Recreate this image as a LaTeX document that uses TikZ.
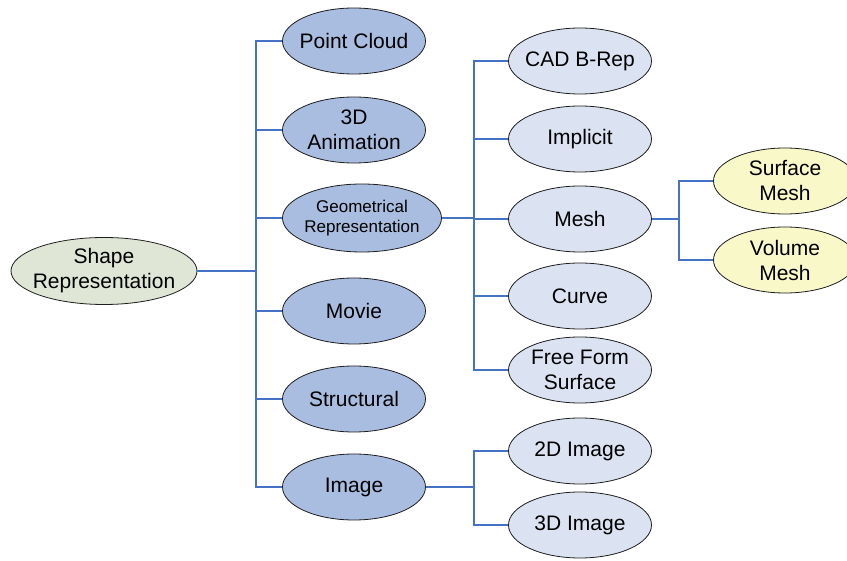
\documentclass[tikz,border=0pt]{standalone}
\usepackage{fontspec}
\setmainfont{Liberation Sans}
\usetikzlibrary{shapes.geometric}

\definecolor{linkblue}{RGB}{68,114,196}
\definecolor{rootfill}{RGB}{223,230,213}
\definecolor{midfill}{RGB}{168,189,224}
\definecolor{leaffill}{RGB}{219,226,241}
\definecolor{meshfill}{RGB}{248,248,200}
\definecolor{edgegray}{RGB}{30,30,30}

\tikzset{
  blob/.style={ellipse, draw=edgegray, line width=0.8pt,
    inner xsep=-30pt, inner ysep=-15pt,
    minimum width=143pt, minimum height=66pt, align=center,
    font=\fontsize{21}{25}\selectfont},
  rootblob/.style={blob, fill=rootfill, minimum width=186pt, minimum height=67pt},
  midblob/.style={blob, fill=midfill},
  leafblob/.style={blob, fill=leaffill},
  meshblob/.style={blob, fill=meshfill},
  link/.style={draw=linkblue, line width=1.1pt}
}

\begin{document}
\begin{tikzpicture}[x=1pt,y=-1pt]
  \clip (0,0) rectangle (847,561);
  \useasboundingbox (0,0) rectangle (847,561);

  % root
  \node[rootblob] (sr) at (104,271) {Shape\\Representation};

  % first level
  \node[midblob] (pc)     at (354,41)  {Point Cloud};
  \node[midblob] (anim)   at (354,130) {3D\\Animation};
  \node[midblob, minimum width=159pt, minimum height=68pt,
        font=\fontsize{17}{20.5}\selectfont] (geo) at (362,218) {Geometrical\\Representation};
  \node[midblob] (movie)  at (354,311) {Movie};
  \node[midblob] (struct) at (354,399) {Structural};
  \node[midblob] (img)    at (354,487) {Image};

  % geometrical representations
  \node[leafblob] (cad)  at (580,61)  {CAD B-Rep};
  \node[leafblob] (impl) at (580,139) {Implicit};
  \node[leafblob] (mesh) at (580,219) {Mesh};
  \node[leafblob] (crv)  at (580,296) {Curve};
  \node[leafblob] (ffs)  at (580,370) {Free Form\\Surface};

  % image kinds
  \node[leafblob] (img2) at (580,451) {2D Image};
  \node[leafblob] (img3) at (580,525) {3D Image};

  % mesh kinds
  \node[meshblob] (smesh) at (785,181) {Surface\\Mesh};
  \node[meshblob] (vmesh) at (785,260) {Volume\\Mesh};

  % junction points of the tree
  \coordinate (busA) at (256,271);
  \coordinate (busB) at (474,218);
  \coordinate (busC) at (474,487);
  \coordinate (busD) at (679,219);

  % connectors
  \draw[link] (sr.east) -- (busA);
  \foreach \n in {pc,anim,geo,movie,struct,img}
    \draw[link] (busA) |- (\n.west);

  \draw[link] (geo.east) -- (busB);
  \foreach \n in {cad,impl,mesh,crv,ffs}
    \draw[link] (busB) |- (\n.west);

  \draw[link] (img.east) -- (busC);
  \foreach \n in {img2,img3}
    \draw[link] (busC) |- (\n.west);

  \draw[link] (mesh.east) -- (busD);
  \foreach \n in {smesh,vmesh}
    \draw[link] (busD) |- (\n.west);
\end{tikzpicture}
\end{document}
